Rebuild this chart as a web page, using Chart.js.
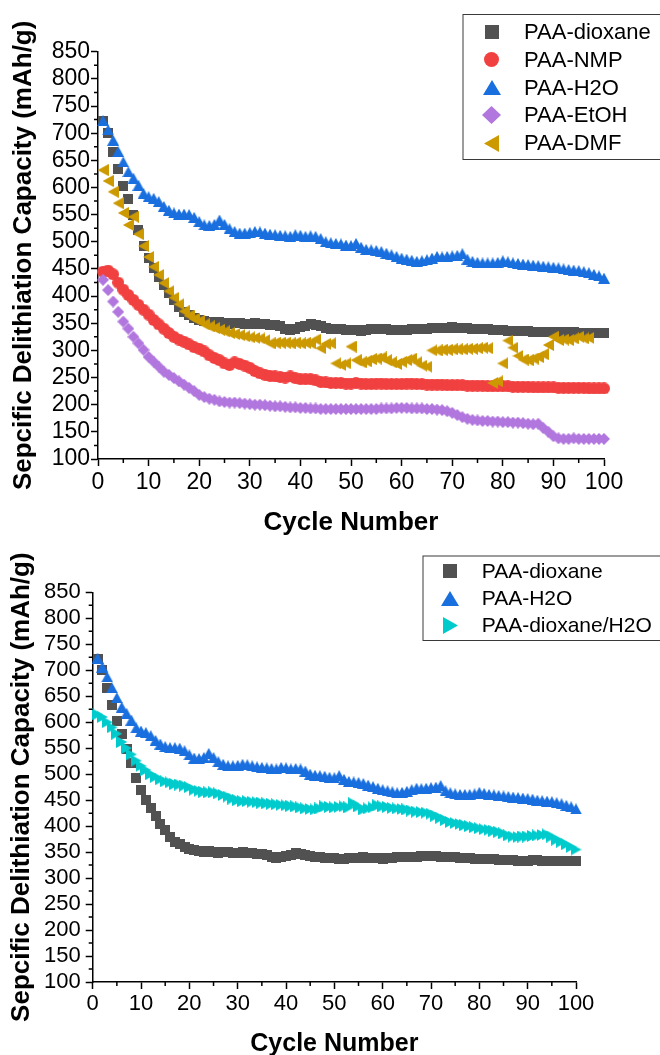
<!DOCTYPE html>
<html>
<head>
<meta charset="utf-8">
<title>Delithiation capacity vs cycle number</title>
<script src="https://cdn.jsdelivr.net/npm/chart.js@4.4.1/dist/chart.umd.min.js"></script>
<style>
  body { margin: 0; background: #fff; }
  #wrap { position: relative; width: 660px; height: 1055px; overflow: hidden; background: #fff; }
  #wrap canvas { position: absolute; left: 0; }
  #topChart { top: 0; }
  #bottomChart { top: 540px; }
</style>
</head>
<body>
<div id="wrap">
  <canvas id="topChart" width="660" height="540"></canvas>
  <canvas id="bottomChart" width="660" height="517"></canvas>
</div>
<script>
// Delithiation capacity (mAh/g) per cycle, one value per cycle starting at cycle 1
const dioxane = [722, 700, 665, 634, 602, 578, 549, 521, 492, 470,
  451, 435, 420, 405, 393, 380, 370, 365, 359, 356,
  354, 352, 350, 352, 350, 348, 350, 350, 348, 349,
  350, 349, 348, 347, 346, 345, 340, 338, 340, 343,
  345, 348, 347, 344, 342, 340, 340, 339, 338, 338,
  337, 336, 338, 339, 339, 340, 339, 338, 338, 337,
  338, 339, 340, 340, 340, 341, 341, 342, 342, 343,
  342, 341, 341, 340, 340, 339, 339, 338, 337, 337,
  336, 336, 336, 335, 335, 334, 334, 333, 333, 333,
  334, 334, 333, 333, 332, 332, 332, 332, 332, 332];

const nmp = [445, 447, 440, 425, 412, 402, 393, 384, 375, 366,
  356, 348, 340, 332, 325, 320, 316, 311, 306, 303,
  298, 291, 286, 282, 276, 273, 278, 275, 272, 268,
  262, 258, 255, 253, 252, 251, 250, 252, 249, 247,
  247, 247, 245, 242, 241, 240, 240, 240, 239, 239,
  240, 239, 238, 238, 239, 239, 238, 238, 238, 238,
  239, 239, 238, 238, 237, 237, 237, 237, 236, 236,
  236, 236, 235, 235, 235, 235, 234, 234, 234, 234,
  234, 233, 233, 233, 233, 232, 232, 232, 232, 232,
  231, 231, 231, 231, 231, 231, 230, 230, 230, 230];

const h2o = [723, 706, 687, 666, 647, 629, 617, 604, 589, 583,
  580, 574, 565, 558, 553, 551, 551, 550, 545, 537,
  531, 530, 532, 540, 532, 524, 519, 516, 516, 517,
  519, 518, 516, 514, 513, 512, 511, 510, 513, 512,
  510, 511, 510, 506, 500, 498, 497, 496, 494, 493,
  497, 490, 486, 485, 484, 482, 479, 476, 473, 470,
  468, 466, 464, 465, 467, 470, 473, 472, 473, 474,
  475, 478, 468, 464, 462, 461, 461, 461, 462, 465,
  463, 461, 460, 459, 458, 457, 456, 455, 454, 453,
  452, 450, 449, 448, 447, 445, 443, 440, 437, 433];

const etoh = [430, 411, 390, 371, 353, 340, 325, 313, 301, 288,
  279, 270, 261, 255, 249, 243, 237, 231, 225, 218,
  214, 211, 209, 206, 205, 204, 204, 203, 202, 201,
  200, 200, 199, 198, 197, 197, 196, 195, 195, 194,
  194, 193, 193, 192, 192, 192, 192, 192, 192, 192,
  192, 192, 192, 192, 192, 193, 193, 193, 194, 194,
  194, 193, 193, 193, 192, 192, 191, 190, 188, 185,
  181, 177, 174, 172, 171, 170, 170, 169, 169, 168,
  168, 167, 167, 166, 165, 164, 165, 157, 150, 142,
  138, 137, 137, 138, 137, 137, 137, 137, 137, 137];

const dmf = [632, 612, 592, 571, 553, 531, 546, 514, 492, 472,
  454, 439, 424, 409, 397, 385, 372, 364, 358, 354,
  348, 344, 341, 338, 335, 332, 330, 328, 326, 324,
  323, 322, 319, 313, 314, 314, 314, 313, 314, 313,
  314, 313, 320, 304, 312, 313, 276, 273, 276, 307,
  282, 278, 280, 284, 285, 287, 282, 278, 275, 279,
  282, 285, 278, 272, 270, 300, 300, 301, 301, 302,
  302, 302, 303, 303, 304, 305, 304, 240, 243, 276,
  318, 305, 290, 283, 282, 285, 288, 293, 310, 325,
  319, 320, 319, 322, 325, 322, 323];

const dioxaneH2o = [615, 610, 600, 590, 578, 562, 550, 538, 526, 516,
  508, 500, 495, 490, 486, 484, 481, 480, 478, 475,
  470, 468, 466, 465, 465, 463, 460, 457, 453, 450,
  448, 448, 447, 446, 445, 444, 443, 442, 441, 440,
  439, 438, 436, 434, 433, 432, 434, 438, 437, 436,
  437, 438, 436, 444, 438, 432, 434, 436, 440, 438,
  437, 435, 434, 433, 432, 430, 428, 427, 426, 424,
  420, 416, 412, 408, 406, 404, 402, 400, 398, 396,
  394, 393, 391, 389, 386, 382, 380, 379, 380, 380,
  381, 382, 383, 384, 380, 374, 370, 365, 360, 355];

const xTicks = { min: 0, max: 100, step: 10 };
const yTicks = { min: 100, max: 850, step: 50 };

const FONT = '"Liberation Sans", Arial, Helvetica, sans-serif';
const YTITLE = 'Sepcific Delithiation Capacity (mAh/g)';
const XTITLE = 'Cycle Number';

// Origin-style palette
const colors = {
  dioxane: '#515151',
  nmp: '#F14040',
  h2o: '#1A6FDF',
  etoh: '#B177DE',
  dmf: '#CC9900',
  mix: '#00CBCC'
};

// draw a filled marker into a small canvas so it can be used as a pointStyle
function makeMarker(shape, color, w, h) {
  const c = document.createElement('canvas');
  c.width = w;
  c.height = h;
  const g = c.getContext('2d');
  g.fillStyle = color;
  g.beginPath();
  if (shape === 'square') {
    g.rect(0, 0, w, h);
  } else if (shape === 'circle') {
    g.arc(w / 2, h / 2, w / 2, 0, Math.PI * 2);
  } else if (shape === 'up') {
    g.moveTo(w / 2, 0); g.lineTo(w, h); g.lineTo(0, h);
  } else if (shape === 'diamond') {
    g.moveTo(w / 2, 0); g.lineTo(w, h / 2); g.lineTo(w / 2, h); g.lineTo(0, h / 2);
  } else if (shape === 'left') {
    g.moveTo(0, h / 2); g.lineTo(w, 0); g.lineTo(w, h);
  } else if (shape === 'right') {
    g.moveTo(w, h / 2); g.lineTo(0, 0); g.lineTo(0, h);
  }
  g.closePath();
  g.fill();
  return c;
}

const markers = {
  dioxane: [makeMarker('square', colors.dioxane, 10, 10), makeMarker('square', colors.dioxane, 14, 14)],
  nmp: [makeMarker('circle', colors.nmp, 12, 12), makeMarker('circle', colors.nmp, 15, 15)],
  h2o: [makeMarker('up', colors.h2o, 12, 11), makeMarker('up', colors.h2o, 18, 15)],
  etoh: [makeMarker('diamond', colors.etoh, 12, 12), makeMarker('diamond', colors.etoh, 19, 18)],
  dmf: [makeMarker('left', colors.dmf, 11, 12), makeMarker('left', colors.dmf, 15, 17)],
  mix: [makeMarker('right', colors.mix, 11, 12), makeMarker('right', colors.mix, 15, 17)]
};

function series(label, values, key, order) {
  return {
    label: label,
    data: values.map((v, i) => ({ x: i + 1, y: v })),
    showLine: false,
    pointStyle: markers[key][0],
    legendIcon: markers[key][1],
    pointRadius: 6,
    pointHoverRadius: 6,
    clip: false,
    order: order
  };
}

// small ticks halfway between the labelled ones
const minorTicks = {
  id: 'minorTicks',
  afterDraw(chart) {
    const ctx = chart.ctx;
    ctx.save();
    ctx.strokeStyle = '#000';
    ctx.lineWidth = 1.5;
    ctx.beginPath();
    const xs = chart.scales.x, ys = chart.scales.y;
    for (let i = 0; i < xs.ticks.length - 1; i++) {
      const px = xs.getPixelForValue((xs.ticks[i].value + xs.ticks[i + 1].value) / 2);
      ctx.moveTo(px, xs.top);
      ctx.lineTo(px, xs.top + 4);
    }
    for (let i = 0; i < ys.ticks.length - 1; i++) {
      const py = ys.getPixelForValue((ys.ticks[i].value + ys.ticks[i + 1].value) / 2);
      ctx.moveTo(ys.right, py);
      ctx.lineTo(ys.right - 4, py);
    }
    ctx.stroke();
    ctx.restore();
  }
};

// framed legend, drawn from the datasets' labels and icons
const boxLegend = {
  id: 'boxLegend',
  afterDraw(chart, args, opts) {
    const ctx = chart.ctx;
    ctx.save();
    ctx.strokeStyle = '#3a3a3a';
    ctx.lineWidth = 1;
    ctx.strokeRect(opts.left + 0.5, opts.top + 0.5, opts.width, opts.height);
    ctx.fillStyle = '#000';
    ctx.font = opts.fontSize + 'px ' + FONT;
    ctx.textAlign = 'left';
    ctx.textBaseline = 'middle';
    const sets = chart.data.datasets.slice().sort((a, b) => b.order - a.order);
    sets.forEach((ds, i) => {
      const cy = opts.firstRow + i * opts.rowGap;
      const icon = ds.legendIcon;
      ctx.drawImage(icon, Math.round(opts.iconX - icon.width / 2), Math.round(cy - icon.height / 2));
      ctx.fillText(ds.label, opts.textX, cy + 1);
    });
    ctx.restore();
  }
};

function makeChart(id, datasets, geo) {
  const canvas = document.getElementById(id);
  return new Chart(canvas, {
    type: 'scatter',
    data: { datasets: datasets },
    options: {
      responsive: false,
      animation: false,
      devicePixelRatio: 1,
      events: [],
      layout: { padding: { top: geo.top, right: canvas.width - geo.right, bottom: 0, left: 0 } },
      scales: {
        x: {
          type: 'linear',
          min: xTicks.min,
          max: xTicks.max,
          ticks: { stepSize: xTicks.step, autoSkip: false, color: '#000', padding: geo.xPad, maxRotation: 0,
                   font: { family: FONT, size: geo.tickSize } },
          grid: { drawOnChartArea: false, drawTicks: true, tickLength: 7, tickWidth: 1.5, tickColor: '#000' },
          border: { display: true, color: '#000', width: 1.5 },
          title: { display: true, text: XTITLE, color: '#000',
                   font: { family: FONT, size: geo.xTitleSize, weight: 'bold', lineHeight: 1 },
                   padding: { top: 0, bottom: geo.xTitlePad } },
          afterFit(scale) { scale.height = canvas.height - geo.bottom; }
        },
        y: {
          type: 'linear',
          min: yTicks.min,
          max: yTicks.max,
          ticks: { stepSize: yTicks.step, autoSkip: false, color: '#000', padding: geo.yPad,
                   font: { family: FONT, size: geo.tickSize } },
          grid: { drawOnChartArea: false, drawTicks: true, tickLength: 7, tickWidth: 1.5, tickColor: '#000' },
          border: { display: true, color: '#000', width: 1.5 },
          title: { display: true, text: YTITLE, color: '#000',
                   font: { family: FONT, size: 26, weight: 'bold', lineHeight: 1 },
                   padding: { top: geo.yTitlePad, bottom: 0 } },
          afterFit(scale) { scale.width = geo.left; }
        }
      },
      plugins: {
        legend: { display: false },
        tooltip: { enabled: false },
        boxLegend: geo.legend
      }
    },
    plugins: [minorTicks, boxLegend]
  });
}

makeChart('topChart', [
  series('PAA-dioxane', dioxane, 'dioxane', 4),
  series('PAA-NMP', nmp, 'nmp', 3),
  series('PAA-H2O', h2o, 'h2o', 2),
  series('PAA-EtOH', etoh, 'etoh', 1),
  series('PAA-DMF', dmf, 'dmf', 0)
], {
  left: 98, right: 604, top: 51.7, bottom: 459,
  tickSize: 23, xPad: 3, yPad: 1, xTitleSize: 26, xTitlePad: 4.5, yTitlePad: 10.5,
  legend: { left: 462.5, top: 14, width: 260, height: 145, iconX: 491.7, textX: 524,
            firstRow: 31.7, rowGap: 27.9, fontSize: 22 }
});

makeChart('bottomChart', [
  series('PAA-dioxane', dioxane, 'dioxane', 2),
  series('PAA-H2O', h2o, 'h2o', 1),
  series('PAA-dioxane/H2O', dioxaneH2o, 'mix', 0)
], {
  left: 92.7, right: 576, top: 52.3, bottom: 442,
  tickSize: 22, xPad: 2, yPad: 5, xTitleSize: 25, xTitlePad: 0, yTitlePad: 8.7,
  legend: { left: 422.5, top: 15.5, width: 260, height: 84.5, iconX: 450, textX: 481.7,
            firstRow: 31, rowGap: 27, fontSize: 21 }
});
</script>
</body>
</html>
